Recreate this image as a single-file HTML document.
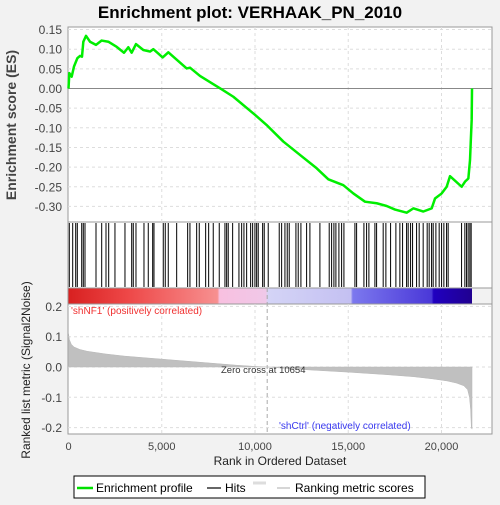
<!DOCTYPE html>
<html><head><meta charset="utf-8"><style>
body{margin:0;background:#f2f2f2;width:500px;height:500px;overflow:hidden;font-family:"Liberation Sans",sans-serif}
</style></head><body>
<svg id="c" width="500" height="500" xmlns="http://www.w3.org/2000/svg" style="font-family:'Liberation Sans',sans-serif">
<defs>
<linearGradient id="band" x1="0" x2="1" y1="0" y2="0">
<stop offset="0" stop-color="#d82020"/><stop offset="0.15" stop-color="#ee4848"/><stop offset="0.37" stop-color="#f79090"/><stop offset="0.375" stop-color="#f8c0e0"/><stop offset="0.49" stop-color="#f0c8e8"/><stop offset="0.495" stop-color="#d4d4f6"/><stop offset="0.70" stop-color="#c4c0f2"/><stop offset="0.705" stop-color="#7c78ee"/><stop offset="0.90" stop-color="#4a38d8"/><stop offset="0.905" stop-color="#2000c0"/><stop offset="1" stop-color="#200090"/>
</linearGradient>
</defs>
<text x="250" y="18" text-anchor="middle" font-size="17" font-weight="bold" fill="#000">Enrichment plot: VERHAAK_PN_2010</text>
<rect x="68" y="27" width="424" height="195" fill="#fff" stroke="#999"/>
<rect x="68" y="222" width="424" height="66" fill="#fff" stroke="#999"/>
<rect x="68" y="288" width="404" height="16" fill="url(#band)"/>
<rect x="68" y="288" width="424" height="16" fill="none" stroke="#999"/>
<rect x="68" y="304" width="424" height="130" fill="#fff" stroke="#999"/>
<g id="grid"></g><g id="metric"></g><g id="hits"></g><g id="es"></g><g id="axes"></g>
<text x="16" y="125" transform="rotate(-90 16 125)" text-anchor="middle" font-size="14" font-weight="bold" fill="#444">Enrichment score (ES)</text>
<text x="30" y="370" transform="rotate(-90 30 370)" text-anchor="middle" font-size="12" fill="#222">Ranked list metric (Signal2Noise)</text>
<text x="280" y="465" text-anchor="middle" font-size="12" fill="#222">Rank in Ordered Dataset</text>
<text x="71" y="314" font-size="10" fill="#f03030">'shNF1' (positively correlated)</text>
<text x="279" y="429" font-size="10" fill="#3a3af0">'shCtrl' (negatively correlated)</text>
<text x="221" y="373" font-size="9.5" fill="#333">Zero cross at 10654</text>
<g>
<rect x="74" y="476" width="351" height="22" fill="#fff" stroke="#000"/>
<line x1="77" y1="488" x2="93" y2="488" stroke="#00e000" stroke-width="2.5"/>
<text x="96" y="492" font-size="12" fill="#000">Enrichment profile</text>
<line x1="207" y1="488" x2="221" y2="488" stroke="#000" stroke-width="1.2"/>
<text x="225" y="492" font-size="12" fill="#000">Hits</text>
<line x1="253" y1="483" x2="266" y2="483" stroke="#ddd" stroke-width="3"/>
<line x1="277" y1="488" x2="290" y2="488" stroke="#bbb" stroke-width="1.2"/>
<text x="295" y="492" font-size="12" fill="#000">Ranking metric scores</text>
</g>
</svg>
<script>
const esRanks=[0,45,170,295,474,617,724,795,938,1153,1474,1778,2136,2583,2976,3208,3387,3619,4012,4370,4549,4817,5049,5353,5710,6336,6515,7051,7766,8213,8839,9999,10625,11519,12413,13307,13932,14737,15273,15898,16524,17060,17507,18133,18490,19026,19473,19652,20010,20278,20457,21082,21261,21440,21529,21565,21618,21636];
const esValues=[0,0.039,0.03,0.056,0.077,0.083,0.081,0.119,0.134,0.119,0.111,0.122,0.119,0.106,0.091,0.105,0.091,0.113,0.098,0.094,0.1,0.089,0.079,0.092,0.077,0.051,0.053,0.032,0.011,-0.002,-0.021,-0.067,-0.093,-0.135,-0.169,-0.203,-0.231,-0.246,-0.267,-0.288,-0.292,-0.299,-0.308,-0.316,-0.305,-0.313,-0.305,-0.28,-0.267,-0.25,-0.223,-0.25,-0.237,-0.229,-0.182,-0.14,-0.08,0];
const hitRanks=[43,225,386,472,708,793,884,1474,1780,2010,2155,2491,3028,3388,3473,3618,4047,4277,4513,4583,5081,5188,5349,5800,6389,6512,6872,7011,7354,7515,7761,8083,8388,8480,8565,8801,9139,9284,9407,9552,9766,9873,9996,10088,10173,10409,10495,10709,11299,11428,11605,11728,11835,12194,12317,12462,12767,12944,13480,13979,14108,14231,14338,14499,14644,14768,15357,15448,15840,15983,16107,16429,16520,16873,17018,17270,17554,17768,17913,18128,18213,18342,18449,18664,18803,19017,19232,19339,19468,19554,19699,19875,20004,20127,20272,20357,21076,21252,21344,21429,21520,21590];
const metricRanks=[0,50,150,300,600,1000,2000,3000,4000,5000,6000,7000,8000,9000,10000,10654,11500,13000,15000,17000,18500,19500,20300,20800,21200,21400,21500,21560,21600,21636];
const metricValues=[0.11,0.09,0.075,0.066,0.058,0.052,0.043,0.036,0.031,0.026,0.021,0.016,0.011,0.006,0.002,0,-0.004,-0.01,-0.017,-0.025,-0.032,-0.039,-0.046,-0.053,-0.062,-0.075,-0.1,-0.14,-0.2,-0.205];
const esTicks=[0.15,0.10,0.05,0.00,-0.05,-0.10,-0.15,-0.20,-0.25,-0.30];
const metricTicks=[0.2,0.1,0.0,-0.1,-0.2];
const xTicks=[0,5000,10000,15000,20000];
const zeroCross=10654;
const NS='http://www.w3.org/2000/svg';
const xs=r=>68.5+r*0.01865;
const yEs=v=>88.5-v*393;
const yM=v=>367-v*303;
function mk(tag,parent,attrs){const e=document.createElementNS(NS,tag);for(const k in attrs)e.setAttribute(k,attrs[k]);document.getElementById(parent).appendChild(e);return e;}
// grid
xTicks.slice(1).forEach(t=>{
 let l=mk('line','grid',{x1:xs(t),x2:xs(t),y1:27,y2:222,stroke:'#ddd','stroke-dasharray':'3,3'});
 
 
 let l2=mk('line','grid',{x1:xs(t),x2:xs(t),y1:304,y2:434,stroke:'#ddd','stroke-dasharray':'3,3'});
 
 
});
esTicks.forEach(t=>{
 let l=mk('line','grid',{x1:68,x2:492,y1:yEs(t),y2:yEs(t),stroke:t===0?'#888':'#ddd','stroke-dasharray':t===0?'':'3,3'});
 
 
 let tx=mk('text','axes',{x:62,y:yEs(t)+4.5,'text-anchor':'end','font-size':'12',fill:'#444'});
 tx.textContent=t.toFixed(2);
 
 
});
metricTicks.forEach(t=>{
 let l=mk('line','grid',{x1:68,x2:492,y1:yM(t),y2:yM(t),stroke:'#ddd','stroke-dasharray':'3,3'});
 
 
 let tx=mk('text','axes',{x:62,y:yM(t)+4.5,'text-anchor':'end','font-size':'12',fill:'#444'});
 tx.textContent=t.toFixed(1);
 
 
});
xTicks.forEach(t=>{
 let tx=mk('text','axes',{x:xs(t),y:450,'text-anchor':'middle','font-size':'11',fill:'#444'});
 tx.textContent=t.toLocaleString('en-US');
 
 
});
let zc=mk('line','grid',{x1:xs(zeroCross),x2:xs(zeroCross),y1:288,y2:434,stroke:'#aaa','stroke-dasharray':'4,3'});


// metric area
let d='M'+xs(metricRanks[0])+','+yM(0);
metricRanks.forEach((r,i)=>{d+=' L'+xs(r)+','+yM(metricValues[i]);});
d+=' L'+xs(metricRanks[metricRanks.length-1])+','+yM(0)+' Z';
let ma=mk('path','metric',{d:d,fill:'#c0c0c0',stroke:'#b8b8b8','stroke-width':'0.5'});


// hits
hitRanks.forEach(r=>{
 let l=mk('line','hits',{x1:xs(r),x2:xs(r),y1:223,y2:287,stroke:'#000','stroke-width':'1'});
 
 
});
// ES
let p=esRanks.map((r,i)=>xs(r)+','+yEs(esValues[i])).join(' ');
let es=mk('polyline','es',{points:p,fill:'none',stroke:'#00ee00','stroke-width':'2.5','stroke-linejoin':'round'});


</script>
</body></html>
